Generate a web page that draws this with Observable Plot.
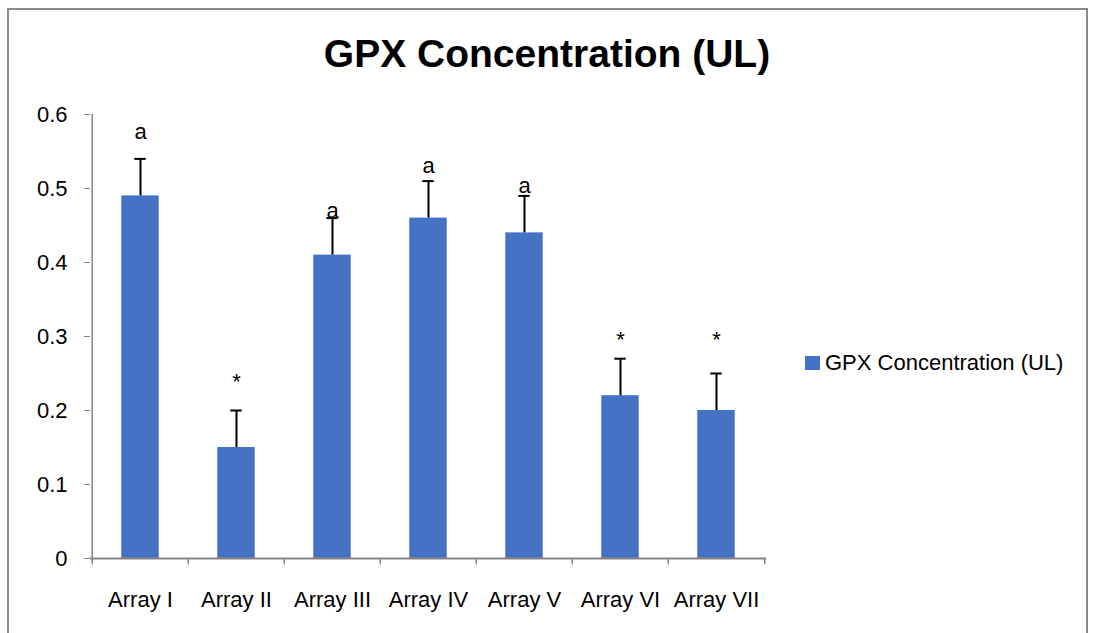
<!DOCTYPE html>
<html>
<head>
<meta charset="utf-8">
<script src="https://cdn.jsdelivr.net/npm/d3@7"></script>
<script src="https://cdn.jsdelivr.net/npm/@observablehq/plot@0.6"></script>
<style>
  html, body { margin: 0; padding: 0; background: #fff; overflow: hidden; }
  #wrap { position: relative; width: 1094px; height: 633px; overflow: hidden; font-family: "Liberation Sans", Arial, sans-serif; }
  #frame { position: absolute; left: 7px; top: 8px; width: 1081px; height: 700px; border: 2px solid #8a8a8a; box-sizing: border-box; }
  #title { position: absolute; left: 0; width: 1094px; top: 34px; text-align: center; font-weight: bold; font-size: 39px; line-height: 39px; color: #000; }
  #legend { position: absolute; left: 805px; top: 351px; display: flex; align-items: center; gap: 5px; font-size: 22px; line-height: 24px; color: #000; }
  #legend .sw { width: 15px; height: 14px; background: #4472C4; }
  #chart { position: absolute; left: 0; top: 0; }
</style>
</head>
<body>
<div id="wrap">
  <div id="frame"></div>
  <div id="chart"></div>
  <div id="title">GPX Concentration (UL)</div>
  <div id="legend"><div class="sw"></div><span>GPX Concentration (UL)</span></div>
</div>
<script>
const categories = ["Array I", "Array II", "Array III", "Array IV", "Array V", "Array VI", "Array VII"];
const values = [0.49, 0.15, 0.41, 0.46, 0.44, 0.22, 0.20];
const errors = [0.05, 0.05, 0.05, 0.05, 0.05, 0.05, 0.05];
const labels = ["a", "*", "a", "a", "a", "*", "*"];
const labelAt = [0.577, 0.238, 0.469, 0.531, 0.504, 0.296, 0.296];
const yTicks = [0, 0.1, 0.2, 0.3, 0.4, 0.5, 0.6];
const yTickLabels = ["0", "0.1", "0.2", "0.3", "0.4", "0.5", "0.6"];

const data = categories.map((c, i) => ({cat: c, v: values[i], hi: values[i] + errors[i], lab: labels[i], ly: labelAt[i]}));

const W = 1094, H = 633;
const mL = 90, mR = 328, mT = 114, mB = 75;
const bw = (W - mL - mR) / categories.length;
const barW = 38;
const capW = 12;
const grey = "#868686";

const chart = Plot.plot({
  width: W,
  height: H,
  marginLeft: mL,
  marginRight: mR,
  marginTop: mT,
  marginBottom: mB,
  style: {fontFamily: "'Liberation Sans', Arial, sans-serif", fontSize: "22px", color: "#000", background: "transparent"},
  x: {domain: categories, padding: 0},
  y: {domain: [0, 0.6]},
  marks: [
    Plot.barY(data, {x: "cat", y: "v", fill: "#4472C4", insetLeft: (bw - barW) / 2, insetRight: (bw - barW) / 2}),
    Plot.ruleX(data, {x: "cat", y1: "v", y2: "hi", stroke: "#000", strokeWidth: 2}),
    Plot.tickY(data, {x: "cat", y: "hi", stroke: "#000", strokeWidth: 2, insetLeft: (bw - capW) / 2, insetRight: (bw - capW) / 2}),
    Plot.text(data, {x: "cat", y: "ly", text: "lab", fontSize: 22, fill: "#000"}),
    // axis lines
    Plot.ruleY([0], {stroke: grey, strokeWidth: 2}),
    Plot.ruleX([categories[0]], {dx: -bw / 2, y1: 0, y2: 0.6, stroke: grey, strokeWidth: 1.5}),
    // x boundary ticks
    Plot.ruleX(categories, {x: d => d, dx: -bw / 2, y1: 0, y2: -0.0085, stroke: grey, strokeWidth: 1.5}),
    Plot.ruleX([categories[categories.length - 1]], {dx: bw / 2, y1: 0, y2: -0.0085, stroke: grey, strokeWidth: 1.5}),
    Plot.axisY({ticks: yTicks, tickFormat: (d, i) => yTickLabels[i], tickSize: 6, tickPadding: 17, stroke: grey, fill: "#000", label: null, fontSize: 22}),
    Plot.axisX({tickSize: 0, tickPadding: 33, label: null, fill: "#000", fontSize: 22})
  ]
});
document.getElementById("chart").appendChild(chart);
</script>
</body>
</html>
